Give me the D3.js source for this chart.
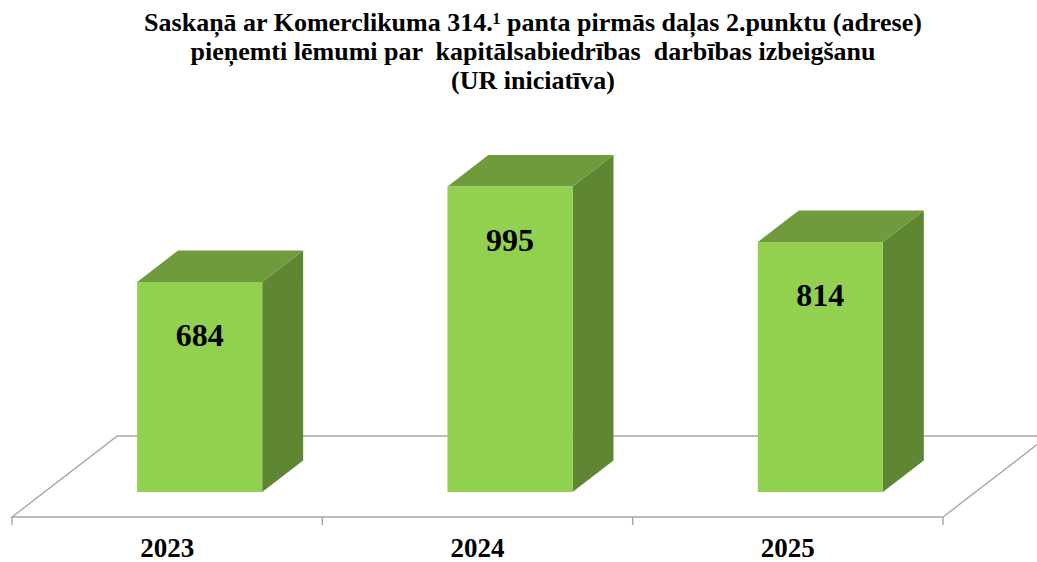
<!DOCTYPE html>
<html>
<head>
<meta charset="utf-8">
<script src="https://cdn.jsdelivr.net/npm/d3@7"></script>
<style>
  html, body { margin: 0; padding: 0; background: #ffffff; }
  svg { display: block; }
</style>
</head>
<body>
<svg id="chart" width="1037" height="562"></svg>
<script>
// ---- data ----
const categories = ["2023", "2024", "2025"];
const values = [684, 995, 814];
const titleLines = [
  "Saskaņā ar Komerclikuma 314.¹ panta pirmās daļas 2.punktu (adrese)",
  "pieņemti lēmumi par  kapitālsabiedrības  darbības izbeigšanu",
  "(UR iniciatīva)"
];

// ---- layout ----
const W = 1037, H = 562;
const svg = d3.select("#chart");

const floorFrontY = 517;      // y of front edge of floor
const floorDepth = 81;        // vertical extent of floor (depth)
const slope = 1.3;            // dx per unit of depth
const barDepthFront = 25;     // depth of bar front face
const barDepthBack = 56.5;    // depth of bar back face

const x = d3.scaleBand()
  .domain(categories)
  .range([12, 943])
  .paddingInner(0.597)
  .paddingOuter(0.2985);

const y = d3.scaleLinear().domain([0, 1000]).range([0, 307]);

// projection: x in front plane, depth, height -> screen
function P(px, depth, h) {
  return [px + depth * slope, floorFrontY - depth - (h || 0)];
}

const colors = { front: "#92d050", top: "#6f9b3c", side: "#5f8733", floor: "#a6a6a6" };
const serif = "'Liberation Serif', 'Times New Roman', serif";

// ---- floor ----
const fl = svg.append("g").attr("fill", "none").attr("stroke", colors.floor).attr("stroke-width", 1.4);
const x0 = x.range()[0], x1 = x.range()[1];
const floorPts = [P(x0, 0), P(x1, 0), P(x1, floorDepth), P(x0, floorDepth)];
fl.append("path").attr("d", d3.line()(floorPts) + "Z");

// axis ticks at band boundaries
const tickXs = [x0].concat(categories.map(c => x(c) - x.step() * x.paddingInner() / 2 + x.step()));
tickXs[tickXs.length - 1] = x1;
fl.selectAll("line.tick").data(tickXs).join("line")
  .attr("class", "tick")
  .attr("x1", d => d).attr("x2", d => d)
  .attr("y1", floorFrontY).attr("y2", floorFrontY + 8);

// ---- bars ----
const bars = svg.append("g").selectAll("g").data(categories.map((c, i) => ({ c, v: values[i] }))).join("g");

bars.each(function (d) {
  const g = d3.select(this);
  const xl = x(d.c), xr = x(d.c) + x.bandwidth();
  const h = y(d.v);
  const fd = barDepthFront, bd = barDepthBack;
  // side
  g.append("path").attr("fill", colors.side)
    .attr("d", d3.line()([P(xr, fd, 0), P(xr, bd, 0), P(xr, bd, h), P(xr, fd, h)]) + "Z");
  // top
  g.append("path").attr("fill", colors.top)
    .attr("d", d3.line()([P(xl, fd, h), P(xr, fd, h), P(xr, bd, h), P(xl, bd, h)]) + "Z");
  // front
  const a = P(xl, fd, h), b = P(xr, fd, 0);
  g.append("rect").attr("fill", colors.front)
    .attr("x", a[0]).attr("y", a[1]).attr("width", b[0] - a[0]).attr("height", b[1] - a[1]);
  // value label
  g.append("text")
    .attr("x", (a[0] + b[0]) / 2)
    .attr("y", a[1] + 64)
    .attr("text-anchor", "middle")
    .attr("font-family", serif)
    .attr("font-weight", "bold")
    .attr("font-size", 32)
    .attr("fill", "#000")
    .text(d.v);
});

// ---- category labels ----
svg.append("g").selectAll("text").data(categories).join("text")
  .attr("x", d => x(d) + x.bandwidth() / 2)
  .attr("y", 557)
  .attr("text-anchor", "middle")
  .attr("font-family", serif)
  .attr("font-weight", "bold")
  .attr("font-size", 27)
  .attr("fill", "#000")
  .text(d => d);

// ---- title ----
svg.append("g").selectAll("text").data(titleLines).join("text")
  .attr("x", 533)
  .attr("y", (d, i) => 31 + i * 29)
  .attr("text-anchor", "middle")
  .attr("font-family", serif)
  .attr("font-weight", "bold")
  .attr("font-size", 26)
  .attr("fill", "#000")
  .style("white-space", "pre")
  .text(d => d);
</script>
</body>
</html>
